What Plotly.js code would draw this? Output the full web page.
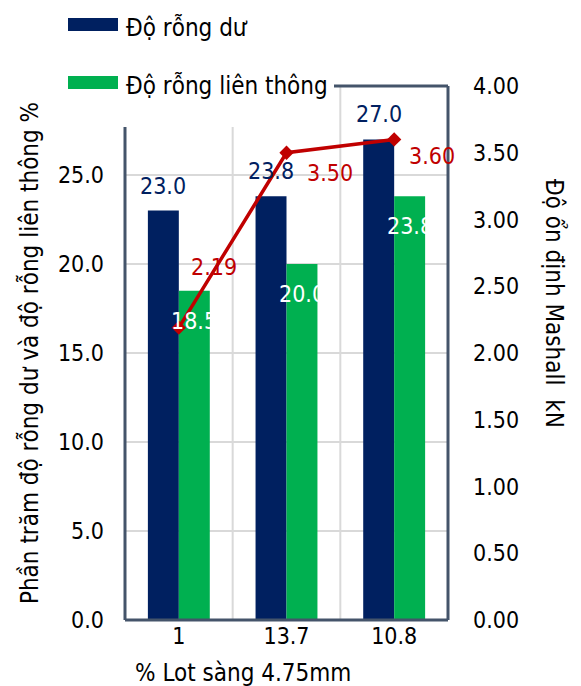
<!DOCTYPE html>
<html>
<head>
<meta charset="utf-8">
<script src="https://cdn.plot.ly/plotly-3.0.1.min.js"></script>
<style>html,body{margin:0;padding:0;background:#fff;}#chart{width:581px;height:686px;}</style>
</head>
<body>
<div id="chart"></div>
<script>
// ---- data ----
const categories = ['1', '13.7', '10.8'];
const seriesNames = ['Độ rỗng dư', 'Độ rỗng liên thông', 'Độ ổn định Mashall'];
const doRongDu = [23.0, 23.8, 27.0];
const doRongLienThong = [18.5, 20.0, 23.8];
const marshall = [2.19, 3.50, 3.60];
const leftTicks = [0, 5, 10, 15, 20, 25];
const rightTicks = [0, 0.5, 1, 1.5, 2, 2.5, 3, 3.5, 4];
const xTitle = '% Lot sàng 4.75mm';
const yLeftTitle = 'Phần trăm độ rỗng dư và độ rỗng liên thông %';
const yRightTitle = 'Độ ổn định Mashall  kN';

// ---- style ----
const FONT = '"DejaVu Sans Condensed", "Noto Sans", "DejaVu Sans", sans-serif';
const NAVY = '#002060', GREEN = '#00B050', RED = '#C00000', FRAME = '#44546A', GRID = '#D9D9D9';
const FS = 23, TFS = 24;
const M = {l: 125, r: 133, t: 86, b: 66};
const W = 581, H = 686;
const pw = W - M.l - M.r, ph = H - M.t - M.b;
const X = p => (p - M.l) / pw;
const Y = p => (H - M.b - p) / ph;
const lineLabelShift = [[35, 61], [43, -20], [38, -17]];

const traces = [
  {type: 'bar', name: seriesNames[0], x: categories, y: doRongDu, marker: {color: NAVY}, yaxis: 'y', hoverinfo: 'none'},
  {type: 'bar', name: seriesNames[1], x: categories, y: doRongLienThong, marker: {color: GREEN}, yaxis: 'y', hoverinfo: 'none'},
  {type: 'scatter', mode: 'lines+markers', name: seriesNames[2], x: categories, y: marshall, yaxis: 'y2',
   line: {color: RED, width: 3.5}, marker: {symbol: 'diamond', size: 11, color: RED}, hoverinfo: 'none'}
];

const annotations = [];
categories.forEach((c, i) => {
  // category axis: annotation x given as category index
  annotations.push({xref: 'x', yref: 'y', x: i, y: doRongDu[i], xshift: -15.5, yshift: 25,
    text: doRongDu[i].toFixed(1), showarrow: false, font: {family: FONT, size: FS, color: NAVY}});
  annotations.push({xref: 'x', yref: 'y', x: i, y: doRongLienThong[i], xshift: 15.5, yshift: -30,
    text: doRongLienThong[i].toFixed(1), showarrow: false, font: {family: FONT, size: FS, color: '#ffffff'}});
  annotations.push({xref: 'x', yref: 'y2', x: i, y: marshall[i], xshift: lineLabelShift[i][0], yshift: lineLabelShift[i][1],
    text: marshall[i].toFixed(2), showarrow: false, font: {family: FONT, size: FS, color: RED}});
});
// legend text
annotations.push({xref: 'paper', yref: 'paper', x: X(124), y: Y(28), xanchor: 'left', yanchor: 'middle',
  text: seriesNames[0], showarrow: false, font: {family: FONT, size: TFS, color: '#000'}});
annotations.push({xref: 'paper', yref: 'paper', x: X(124), y: Y(85), xanchor: 'left', yanchor: 'middle',
  text: seriesNames[1], showarrow: false, font: {family: FONT, size: TFS, color: '#000'}});
// x and right titles
annotations.push({xref: 'paper', yref: 'paper', x: X(243), y: Y(673), xanchor: 'center', yanchor: 'middle',
  text: xTitle, showarrow: false, font: {family: FONT, size: TFS, color: '#000'}});
annotations.push({xref: 'paper', yref: 'paper', x: X(554), y: Y(303), xanchor: 'center', yanchor: 'middle',
  text: yRightTitle, textangle: 90, showarrow: false, font: {family: FONT, size: TFS, color: '#000'}});

const shapes = [
  // vertical category separators
  {type: 'line', xref: 'x', yref: 'paper', x0: 0.5, x1: 0.5, y0: 0, y1: 1, line: {color: GRID, width: 2}, layer: 'below'},
  {type: 'line', xref: 'x', yref: 'paper', x0: 1.5, x1: 1.5, y0: 0, y1: 1, line: {color: GRID, width: 2}, layer: 'below'},
  // legend background
  {type: 'rect', xref: 'paper', yref: 'paper', x0: X(60), x1: X(334), y0: Y(127), y1: Y(5), fillcolor: '#fff', line: {width: 0}, layer: 'above'},
  // legend swatches
  {type: 'rect', xref: 'paper', yref: 'paper', x0: X(68), x1: X(118), y0: Y(31), y1: Y(18), fillcolor: NAVY, line: {width: 0}, layer: 'above'},
  {type: 'rect', xref: 'paper', yref: 'paper', x0: X(68), x1: X(118), y0: Y(89), y1: Y(76), fillcolor: GREEN, line: {width: 0}, layer: 'above'},
  // frame
  {type: 'line', xref: 'paper', yref: 'paper', x0: 0, x1: 0, y0: 0, y1: Y(127), line: {color: FRAME, width: 3}, layer: 'above'},
  {type: 'line', xref: 'paper', yref: 'paper', x0: 0, x1: 1, y0: 0, y1: 0, line: {color: FRAME, width: 3}, layer: 'above'},
  {type: 'line', xref: 'paper', yref: 'paper', x0: 1, x1: 1, y0: 0, y1: 1, line: {color: FRAME, width: 3}, layer: 'above'},
  {type: 'line', xref: 'paper', yref: 'paper', x0: X(334), x1: 1, y0: 1, y1: 1, line: {color: FRAME, width: 3}, layer: 'above'}
];

const layout = {
  width: W, height: H,
  margin: M,
  paper_bgcolor: '#fff', plot_bgcolor: '#fff',
  font: {family: FONT, size: FS, color: '#000'},
  showlegend: false,
  barmode: 'group', bargap: 0.425, bargroupgap: 0,
  xaxis: {type: 'category', range: [-0.5, categories.length - 0.5], autorange: false,
    showgrid: false, showline: false, zeroline: false, ticks: '',
    tickfont: {family: FONT, size: FS, color: '#000'}, fixedrange: true},
  yaxis: {range: [0, 30], autorange: false, tickvals: leftTicks, ticktext: leftTicks.map(v => v.toFixed(1)),
    showgrid: true, gridcolor: GRID, gridwidth: 2, zeroline: false, showline: false, ticks: '',
    ticklabelstandoff: 20, tickfont: {family: FONT, size: FS, color: '#000'},
    title: {text: yLeftTitle, font: {family: FONT, size: TFS, color: '#000'}, standoff: 12}},
  yaxis2: {range: [0, 4], autorange: false, overlaying: 'y', side: 'right', tickvals: rightTicks, ticktext: rightTicks.map(v => v.toFixed(2)),
    showgrid: false, zeroline: false, showline: false, ticks: '', ticklabelstandoff: 24,
    tickfont: {family: FONT, size: FS, color: '#000'}},
  annotations: annotations,
  shapes: shapes
};

Plotly.newPlot('chart', traces, layout, {displayModeBar: false, staticPlot: true});
</script>
</body>
</html>
